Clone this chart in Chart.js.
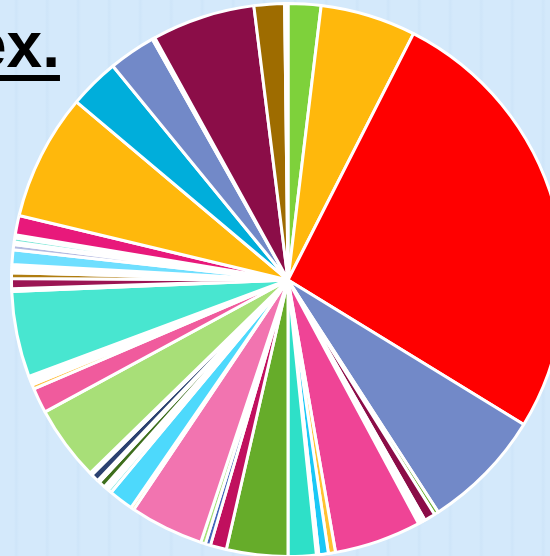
<!DOCTYPE html>
<html>
<head>
<meta charset="utf-8">
<script src="https://cdn.jsdelivr.net/npm/chart.js@4"></script>
<style>
  html, body { margin: 0; padding: 0; width: 550px; height: 556px; overflow: hidden; }
  body {
    background-color: #d4e9fb;
    background-image: repeating-linear-gradient(90deg,
      rgba(180,210,238,0) 0px, rgba(180,210,238,0) 14px,
      rgba(180,210,238,0.18) 16px, rgba(180,210,238,0) 19px,
      rgba(180,210,238,0) 31px);
    position: relative;
  }
  #title {
    position: absolute; left: -29px; top: 8px;
    font-family: "Liberation Sans", Arial, sans-serif;
    font-weight: bold; font-size: 64px; color: #000;
    text-decoration: underline; text-decoration-thickness: 6px;
    text-underline-offset: 8px; white-space: nowrap;
  }
  #wrap { position: absolute; left: 2px; top: 2px; width: 572px; height: 556px; }
</style>
</head>
<body>
<div id="title">ex.</div>
<div id="wrap"><canvas id="graph" width="572" height="556"></canvas></div>
<script>
// 조각 비율 (그림에서 읽은 각도 값, 12시 방향부터 시계방향)
const shares = [
  6.9, 20.1, 94.5, 25.6, 0.9, 2.3, 0.5, 0.5, 0.5, 18.3,
  1.5, 2.0, 0.5, 5.9, 12.9, 3.4, 1.1, 1.0, 15.5, 0.7,
  5.2, 0.8, 0.5, 0.5, 1.4, 0.5, 1.7, 0.5, 15.8, 5.3,
  0.9, 0.6, 0.6, 0.7, 18.0, 0.6, 2.1, 1.2, 0.6, 0.6,
  0.5, 3.1, 1.1, 0.5, 0.9, 0.6, 4.1, 26.6, 10.6, 9.9,
  0.6, 21.7, 6.4, 0.7,
];

const colors = [
  "#7ed13b", "#ffb80c", "#ff0000", "#7289c8", "#66ac2a", "#8b0d48", "#ffffff", "#ffffff", "#ffffff", "#ef4496",
  "#ffc232", "#1ac8f6", "#ffffff", "#2ee0c8", "#66ac2a", "#c0105e", "#4466bb", "#a8df78", "#f274b0", "#ffd060",
  "#4dd9fc", "#7ee8e0", "#ffffff", "#ffffff", "#3d6e1c", "#ffffff", "#2b4170", "#ffffff", "#a8df78", "#f05b9d",
  "#ffc040", "#ffffff", "#ffffff", "#ffffff", "#48e6d0", "#ffffff", "#9b1553", "#b07d10", "#ffffff", "#ffffff",
  "#ffffff", "#6fdfff", "#b4bae0", "#ffffff", "#7fe8d8", "#ffffff", "#e8197b", "#ffb80c", "#00aedb", "#7289c8",
  "#ffffff", "#8b0d48", "#9e6c00", "#ffffff",
];

const labels = shares.map((v, i) => "항목" + (i + 1));

let config = {
  type: "pie",
  data: {
    labels: labels,
    datasets: [
      {
        data: shares,
        backgroundColor: colors,
        borderColor: "#ffffff",
        borderWidth: 3,
      },
    ],
  },
  options: {
    responsive: false,
    animation: false,
    layout: { padding: 0 },
    plugins: {
      legend: { display: false },
      tooltip: { enabled: false },
    },
  },
};

window.onload = () => {
  new Chart(document.getElementById("graph"), config);
};
</script>
</body>
</html>
